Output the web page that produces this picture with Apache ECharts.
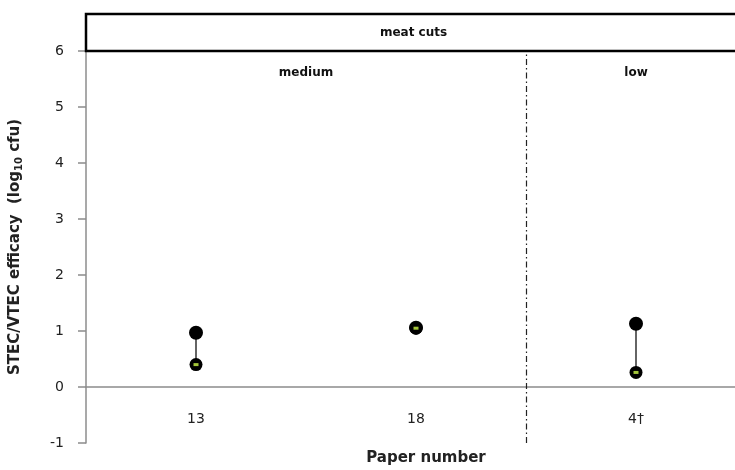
<!DOCTYPE html>
<html>
<head>
<meta charset="utf-8">
<script src="https://cdn.jsdelivr.net/npm/echarts@6/dist/echarts.min.js"></script>
<style>
  html, body { margin: 0; padding: 0; background: #fff; }
  #chart { width: 735px; height: 470px; }
</style>
</head>
<body>
<div id="chart"></div>
<script>
// Paper numbers on the x axis and the efficacy range reported by each one
const papers = ['13', '18', '4†'];
const highValues = [0.97, 1.06, 1.13];
const lowValues = [0.40, 1.05, 0.26];

// Panel headings
const productLabel = 'meat cuts';
const groupNames = ['medium', 'low'];
const groupSpans = [[0, 2], [2, 3]];   // category index ranges on the 0..3 scale
const groupDivider = 2;

const yTicks = { min: -1, max: 6, interval: 1 };

const FONT = '"DejaVu Sans", sans-serif';
const GRID_H = 392;
const unitPx = GRID_H / (yTicks.max - yTicks.min);

const chart = echarts.init(document.getElementById('chart'));

const option = {
  animation: false,
  backgroundColor: '#fff',
  textStyle: { fontFamily: FONT },
  grid: { left: 86, top: 51, width: 660, height: GRID_H, containLabel: false, outerBoundsMode: 'none' },
  xAxis: [
    {
      type: 'category',
      data: papers,
      // the category axis sits on the zero line
      offset: -unitPx * (0 - yTicks.min),
      axisLine: { onZero: false, lineStyle: { color: '#8c8c8c', width: 1.5 } },
      axisTick: { show: false },
      axisLabel: { color: '#222', fontSize: 14, margin: 25, fontFamily: FONT },
      name: 'Paper number',
      nameLocation: 'middle',
      nameGap: 64,
      nameTextStyle: { color: '#222', fontSize: 15, fontWeight: 'bold', fontFamily: FONT, padding: [0, 0, 0, 20] }
    },
    {
      type: 'value',
      min: 0,
      max: 3,
      show: false
    }
  ],
  yAxis: {
    type: 'value',
    min: yTicks.min,
    max: yTicks.max,
    interval: yTicks.interval,
    splitLine: { show: false },
    axisLine: { show: true, onZero: false, lineStyle: { color: '#8c8c8c', width: 1.5 } },
    axisTick: { show: true, length: 8, lineStyle: { color: '#8c8c8c', width: 1.5 } },
    axisLabel: { color: '#222', fontSize: 14, margin: 22, fontFamily: FONT },
    name: '{a|STEC/VTEC efficacy  (log}{s|10}{a| cfu)}',
    nameLocation: 'middle',
    nameGap: 62,
    nameRotate: 90,
    nameTextStyle: {
      rich: {
        a: { fontSize: 15, fontWeight: 'bold', color: '#222', fontFamily: FONT },
        s: { fontSize: 10, fontWeight: 'bold', color: '#222', fontFamily: FONT, verticalAlign: 'bottom', padding: [7, 0, 0, 0] }
      }
    }
  },
  series: [
    {
      // vertical range line between the two estimates of each paper
      type: 'custom',
      xAxisIndex: 0,
      renderItem: function (params, api) {
        const top = api.coord([api.value(0), api.value(1)]);
        const bottom = api.coord([api.value(0), api.value(2)]);
        return {
          type: 'line',
          shape: { x1: top[0], y1: top[1], x2: bottom[0], y2: bottom[1] },
          style: { stroke: '#111', lineWidth: 1.3 }
        };
      },
      data: papers.map((p, i) => [i, highValues[i], lowValues[i]]),
      z: 2
    },
    {
      type: 'scatter',
      xAxisIndex: 0,
      symbol: 'circle',
      symbolSize: 14,
      itemStyle: { color: '#000', opacity: 1 },
      data: papers.map((p, i) => [i, highValues[i]]),
      z: 3
    },
    {
      type: 'scatter',
      xAxisIndex: 0,
      symbol: 'circle',
      symbolSize: 13,
      itemStyle: { color: '#000', opacity: 1 },
      data: papers.map((p, i) => [i, lowValues[i]]),
      z: 4
    },
    {
      type: 'scatter',
      xAxisIndex: 0,
      symbol: 'rect',
      symbolSize: [5, 3],
      itemStyle: { color: '#a4c639', opacity: 1 },
      data: papers.map((p, i) => [i, lowValues[i]]),
      z: 5
    },
    {
      // dash-dot divider between the prevalence groups
      type: 'line',
      xAxisIndex: 1,
      data: [],
      markLine: {
        silent: true,
        symbol: 'none',
        label: { show: false },
        lineStyle: { color: '#222', type: [6, 3, 1.5, 3], width: 1.2 },
        data: [[{ coord: [groupDivider, yTicks.min] }, { coord: [groupDivider, yTicks.max] }]]
      }
    }
  ]
};

chart.setOption(option);

// Header box and group titles, placed from the axis scales
const x0 = chart.convertToPixel({ xAxisIndex: 1 }, 0);
const x3 = chart.convertToPixel({ xAxisIndex: 1 }, 3);
const yTop = chart.convertToPixel({ yAxisIndex: 0 }, yTicks.max);
const boxH = 37;
const graphics = [
  {
    type: 'rect',
    shape: { x: x0, y: yTop - boxH, width: x3 - x0, height: boxH },
    style: { fill: 'none', stroke: '#000', lineWidth: 2.5 },
    z: 10
  },
  {
    type: 'text',
    x: (x0 + Math.min(x3, 735)) / 2 + 3,
    y: yTop - boxH / 2,
    style: { text: productLabel, fill: '#111', font: 'bold 12px ' + FONT, align: 'center', verticalAlign: 'middle' },
    z: 10
  }
];
groupNames.forEach((name, i) => {
  const a = chart.convertToPixel({ xAxisIndex: 1 }, groupSpans[i][0]);
  const b = chart.convertToPixel({ xAxisIndex: 1 }, groupSpans[i][1]);
  graphics.push({
    type: 'text',
    x: (a + b) / 2,
    y: yTop + 22,
    style: { text: name, fill: '#111', font: 'bold 12px ' + FONT, align: 'center', verticalAlign: 'middle' },
    z: 10
  });
});
chart.setOption({ graphic: graphics });
</script>
</body>
</html>
